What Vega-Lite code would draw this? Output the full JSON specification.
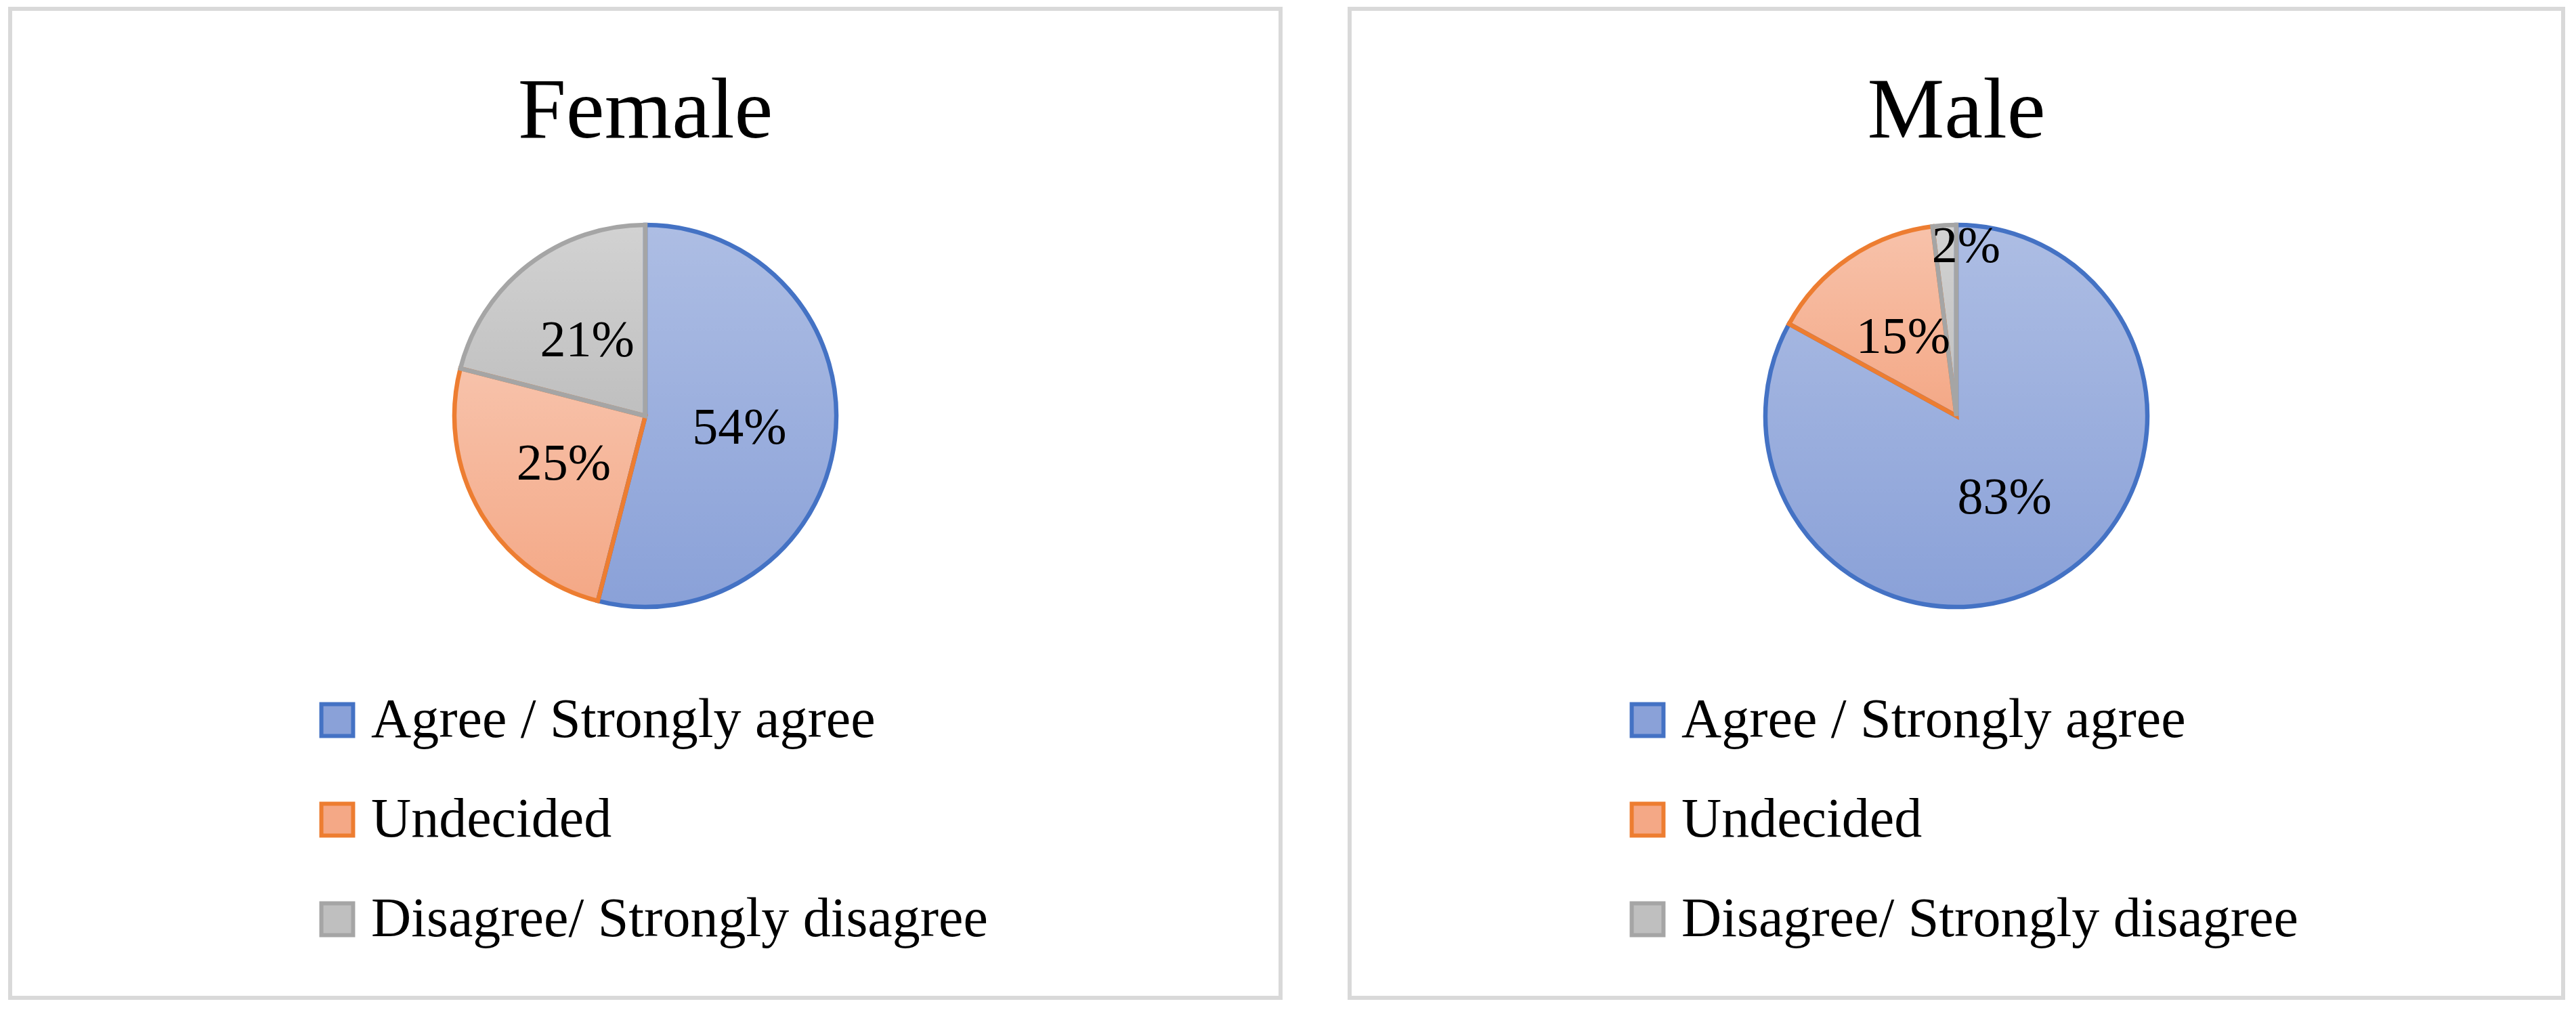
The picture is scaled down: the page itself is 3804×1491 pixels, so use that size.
{
  "$schema": "https://vega.github.io/schema/vega-lite/v6.json",
  "padding": {"left": 12, "top": 10, "right": 0, "bottom": 0},
  "background": "white",
  "datasets": {
    "survey": [
      {"gender": "Female", "response": "Agree / Strongly agree", "order": 1, "value": 0.54},
      {"gender": "Female", "response": "Undecided", "order": 2, "value": 0.25},
      {"gender": "Female", "response": "Disagree/ Strongly disagree", "order": 3, "value": 0.21},
      {"gender": "Male", "response": "Agree / Strongly agree", "order": 1, "value": 0.83},
      {"gender": "Male", "response": "Undecided", "order": 2, "value": 0.15},
      {"gender": "Male", "response": "Disagree/ Strongly disagree", "order": 3, "value": 0.02}
    ]
  },
  "spacing": 96,
  "resolve": {
    "scale": {"fill": "independent", "stroke": "independent"},
    "legend": {"fill": "independent", "stroke": "independent"}
  },
  "hconcat": [
    {
      "width": 1876,
      "height": 1460,
      "view": {"stroke": "#d9d9d9", "strokeWidth": 6, "fill": "white"},
      "title": {"text": "Female"},
      "data": {"name": "survey"},
      "transform": [{"filter": "datum.gender == 'Female'"}],
      "encoding": {
        "theta": {"field": "value", "type": "quantitative", "stack": true},
        "order": {"field": "order", "type": "quantitative"}
      },
      "layer": [
        {
          "mark": {"type": "arc", "outerRadius": 282, "yOffset": -129},
          "encoding": {
            "fill": {
              "field": "response", "type": "nominal",
              "scale": {"domain": ["Agree / Strongly agree", "Undecided", "Disagree/ Strongly disagree"], "range": ["#8aa1d8", "#f4a886", "#bfbfbf"]},
              "legend": {"orient": "none", "legendX": 442, "legendY": 1009, "title": null}
            }
          }
        },
        {
          "mark": {"type": "arc", "outerRadius": 282, "yOffset": -129,
            "fill": {"gradient": "linear", "x1": 0, "y1": 0, "x2": 0, "y2": 1,
              "stops": [{"offset": 0, "color": "rgba(255,255,255,0.3)"}, {"offset": 1, "color": "rgba(255,255,255,0)"}]}},
          "encoding": {}
        },
        {
          "mark": {"type": "arc", "outerRadius": 282, "strokeWidth": 6.5, "fillOpacity": 0, "yOffset": -129},
          "encoding": {
            "stroke": {
              "field": "response", "type": "nominal",
              "scale": {"domain": ["Agree / Strongly agree", "Undecided", "Disagree/ Strongly disagree"], "range": ["#4472c4", "#ed7d31", "#a5a5a5"]},
              "legend": {"orient": "none", "legendX": 442, "legendY": 1009, "title": null}
            }
          }
        },
        {
          "mark": {"type": "text", "radius": 140, "yOffset": -129, "fontSize": 76, "font": "Liberation Serif", "color": "black"},
          "encoding": {
            "text": {"condition": {"test": "datum.value < 0.05", "value": ""}, "field": "value", "type": "quantitative", "format": ".0%"}
          }
        },
        {
          "mark": {"type": "text", "radius": 250, "yOffset": -129, "dx": 30, "fontSize": 76, "font": "Liberation Serif", "color": "black"},
          "encoding": {
            "text": {"condition": {"test": "datum.value >= 0.05", "value": ""}, "field": "value", "type": "quantitative", "format": ".0%"}
          }
        }
      ]
    },
    {
      "width": 1792,
      "height": 1460,
      "view": {"stroke": "#d9d9d9", "strokeWidth": 6, "fill": "white"},
      "title": {"text": "Male"},
      "data": {"name": "survey"},
      "transform": [{"filter": "datum.gender == 'Male'"}],
      "encoding": {
        "theta": {"field": "value", "type": "quantitative", "stack": true},
        "order": {"field": "order", "type": "quantitative"}
      },
      "layer": [
        {
          "mark": {"type": "arc", "outerRadius": 282, "yOffset": -129},
          "encoding": {
            "fill": {
              "field": "response", "type": "nominal",
              "scale": {"domain": ["Agree / Strongly agree", "Undecided", "Disagree/ Strongly disagree"], "range": ["#8aa1d8", "#f4a886", "#bfbfbf"]},
              "legend": {"orient": "none", "legendX": 399, "legendY": 1009, "title": null}
            }
          }
        },
        {
          "mark": {"type": "arc", "outerRadius": 282, "yOffset": -129,
            "fill": {"gradient": "linear", "x1": 0, "y1": 0, "x2": 0, "y2": 1,
              "stops": [{"offset": 0, "color": "rgba(255,255,255,0.3)"}, {"offset": 1, "color": "rgba(255,255,255,0)"}]}},
          "encoding": {}
        },
        {
          "mark": {"type": "arc", "outerRadius": 282, "strokeWidth": 6.5, "fillOpacity": 0, "yOffset": -129},
          "encoding": {
            "stroke": {
              "field": "response", "type": "nominal",
              "scale": {"domain": ["Agree / Strongly agree", "Undecided", "Disagree/ Strongly disagree"], "range": ["#4472c4", "#ed7d31", "#a5a5a5"]},
              "legend": {"orient": "none", "legendX": 399, "legendY": 1009, "title": null}
            }
          }
        },
        {
          "mark": {"type": "text", "radius": 140, "yOffset": -129, "fontSize": 76, "font": "Liberation Serif", "color": "black"},
          "encoding": {
            "text": {"condition": {"test": "datum.value < 0.05", "value": ""}, "field": "value", "type": "quantitative", "format": ".0%"}
          }
        },
        {
          "mark": {"type": "text", "radius": 250, "yOffset": -129, "dx": 30, "fontSize": 76, "font": "Liberation Serif", "color": "black"},
          "encoding": {
            "text": {"condition": {"test": "datum.value >= 0.05", "value": ""}, "field": "value", "type": "quantitative", "format": ".0%"}
          }
        }
      ]
    }
  ],
  "config": {
    "view": {"stroke": "#d9d9d9", "strokeWidth": 6},
    "title": {"font": "Liberation Serif", "fontSize": 128, "fontWeight": "normal", "color": "black", "anchor": "middle", "frame": "group", "offset": -217},
    "legend": {
      "symbolType": "square", "symbolSize": 2200, "symbolStrokeWidth": 6,
      "labelFont": "Liberation Serif", "labelFontSize": 82, "labelColor": "black",
      "labelLimit": 2000, "labelOffset": 9, "rowPadding": 65, "padding": 0
    }
  }
}
